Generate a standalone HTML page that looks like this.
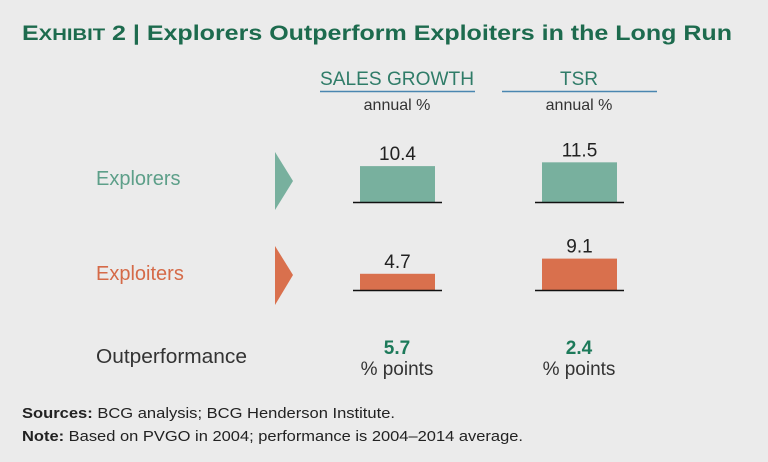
<!DOCTYPE html>
<html><head><meta charset="utf-8"><style>
html,body{margin:0;padding:0;background:#ebebeb;}
svg{display:block;font-family:"Liberation Sans Narrow","Liberation Sans",sans-serif;}
</style></head><body>
<svg id="chart" width="768" height="462" viewBox="0 0 768 462" xmlns="http://www.w3.org/2000/svg">
<rect width="768" height="462" fill="#ebebeb"/>
<text x="22" y="40" font-family="Liberation Sans, sans-serif" font-weight="bold" font-size="21" fill="#1d6b4e" textLength="710" lengthAdjust="spacingAndGlyphs">E<tspan font-size="17">XHIBIT</tspan> 2 | Explorers Outperform Exploiters in the Long Run</text>
<text x="397" y="85" text-anchor="middle" font-size="19" fill="#2f7c68" textLength="154" lengthAdjust="spacingAndGlyphs">SALES GROWTH</text>
<line x1="320" y1="91.5" x2="475" y2="91.5" stroke="#4a86b0" stroke-width="1.5"/>
<text x="579" y="85" text-anchor="middle" font-size="19" fill="#2f7c68">TSR</text>
<line x1="502" y1="91.5" x2="657" y2="91.5" stroke="#4a86b0" stroke-width="1.5"/>
<text x="397" y="110" text-anchor="middle" font-size="16" fill="#333">annual %</text>
<text x="579" y="110" text-anchor="middle" font-size="16" fill="#333">annual %</text>
<text x="96" y="185" font-size="20" fill="#5d9f89">Explorers</text>
<text x="96" y="280" font-size="20" fill="#d56a48">Exploiters</text>
<polygon points="275,152 293,181 275,210" fill="#78b09e"/>
<polygon points="275,246 293,275 275,305" fill="#d9704d"/>
<g id="bars"></g>
<text x="96" y="363" font-size="20" fill="#333" textLength="151" lengthAdjust="spacingAndGlyphs">Outperformance</text>
<text x="397" y="354" text-anchor="middle" font-size="19" font-weight="bold" fill="#1d7a5a">5.7</text>
<text x="397" y="375" text-anchor="middle" font-size="19" fill="#333">% points</text>
<text x="579" y="354" text-anchor="middle" font-size="19" font-weight="bold" fill="#1d7a5a">2.4</text>
<text x="579" y="375" text-anchor="middle" font-size="19" fill="#333">% points</text>
<text x="22" y="418" font-size="15" fill="#222" textLength="373" lengthAdjust="spacingAndGlyphs"><tspan font-weight="bold">Sources:</tspan> BCG analysis; BCG Henderson Institute.</text>
<text x="22" y="441" font-size="15" fill="#222" textLength="501" lengthAdjust="spacingAndGlyphs"><tspan font-weight="bold">Note:</tspan> Based on PVGO in 2004; performance is 2004–2014 average.</text>
</svg>
<script>
const categories = ["Sales growth", "TSR"];
const explorersValues = [10.4, 11.5];
const exploitersValues = [4.7, 9.1];
const valueLabels = [["10.4","11.5"],["4.7","9.1"]];

const NS = "http://www.w3.org/2000/svg";
const g = document.getElementById("bars");
const colX = [397.5, 579.5];
const rowBase = [202, 290];
const rowColor = ["#78b09e", "#d9704d"];
const rowName = ["explorers", "exploiters"];
const scale = 3.45;
function yScale(base, v){ return base - v * scale; }
[explorersValues, exploitersValues].forEach((series, r) => {
  series.forEach((v, c) => {
    const top = yScale(rowBase[r], v);
    const rect = document.createElementNS(NS, "rect");
    rect.setAttribute("x", colX[c] - 37.5);
    rect.setAttribute("y", top);
    rect.setAttribute("width", 75);
    rect.setAttribute("height", rowBase[r] - top);
    rect.setAttribute("fill", rowColor[r]);
    
    
    g.appendChild(rect);
    const line = document.createElementNS(NS, "line");
    line.setAttribute("x1", colX[c] - 44.5);
    line.setAttribute("x2", colX[c] + 44.5);
    line.setAttribute("y1", rowBase[r] + 0.5);
    line.setAttribute("y2", rowBase[r] + 0.5);
    line.setAttribute("stroke", "#111");
    line.setAttribute("stroke-width", "1.5");
    
    
    g.appendChild(line);
    const t = document.createElementNS(NS, "text");
    t.setAttribute("x", colX[c]);
    t.setAttribute("y", top - 6);
    t.setAttribute("text-anchor", "middle");
    t.setAttribute("font-size", "19");
    t.setAttribute("fill", "#222");
    t.textContent = valueLabels[r][c];
    
    
    g.appendChild(t);
  });
});
</script>
</body></html>
